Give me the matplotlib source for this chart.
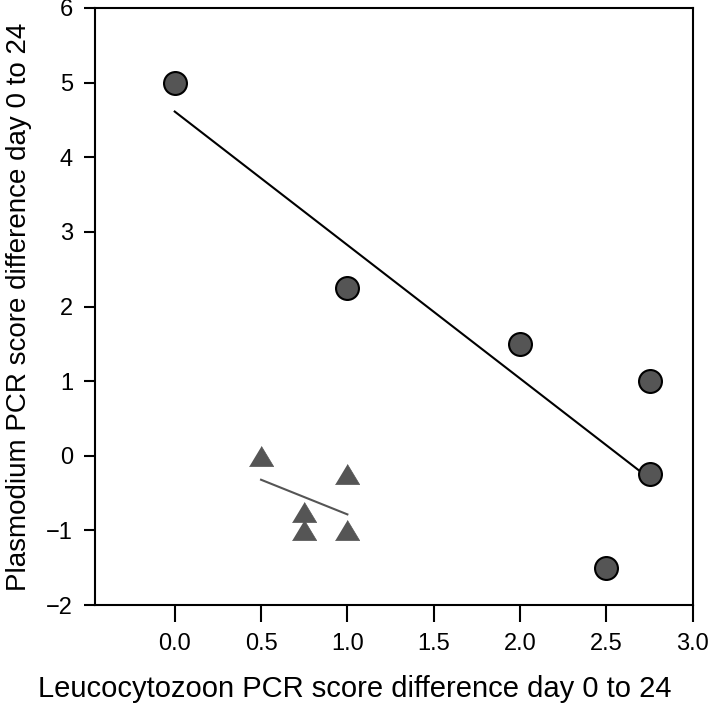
import numpy as np
import matplotlib
matplotlib.use("Agg")
import matplotlib.pyplot as plt

plt.rcParams['font.family'] = ['Liberation Sans', 'DejaVu Sans']

# Plasmodium-dominant group (circles)
circ_x = [0.0, 1.0, 2.0, 2.75, 2.75, 2.5]
circ_y = [5.0, 2.25, 1.5, 1.0, -0.25, -1.5]
# Second group (triangles)
tri_x = [0.5, 0.75, 0.75, 1.0, 1.0]
tri_y = [0.0, -0.75, -1.0, -0.25, -1.0]

xticks = [0.0, 0.5, 1.0, 1.5, 2.0, 2.5, 3.0]
yticks = [-2, -1, 0, 1, 2, 3, 4, 5, 6]

W, H = 709, 703
fig = plt.figure(figsize=(W / 100, H / 100), dpi=100)
ax = fig.add_axes([95.3 / W, 1 - 605 / H, (692.7 - 95.3) / W, (605 - 8) / H])

# regression lines
cx = np.array(circ_x); cy = np.array(circ_y)
m1, b1 = np.polyfit(cx, cy, 1)
xs1 = np.array([cx.min(), cx.max()])
ax.plot(xs1, m1 * xs1 + b1, color='black', lw=1.5, zorder=2)

tx = np.array(tri_x); ty = np.array(tri_y)
m2, b2 = np.polyfit(tx, ty, 1)
xs2 = np.array([tx.min(), tx.max()])
ax.plot(xs2, m2 * xs2 + b2, color='#555555', lw=1.5, zorder=2)

ax.plot(circ_x, circ_y, 'o', ms=16.5, mfc='#555555', mec='black', mew=1.5,
        ls='none', zorder=3)
tri_marker = [(-1, -0.83), (1, -0.83), (0, 0.83)]
ax.plot(tri_x, tri_y, marker=tri_marker, ms=17.5, mfc='#555555', mec='#555555',
        mew=0.5, ls='none', zorder=3)

ax.set_xlim(-0.46, 3.0)
ax.set_ylim(-2, 6)
ax.set_xticks(xticks)
ax.set_xticklabels([f"{v:.1f}" for v in xticks])
ax.set_yticks(yticks)
ax.set_yticklabels([str(v) if v >= 0 else "\u2212" + str(-v) for v in yticks])

for s in ax.spines.values():
    s.set_linewidth(1.5)
ax.tick_params(axis='x', direction='out', length=12, width=1.5, labelsize=17, pad=8)
ax.tick_params(axis='y', direction='out', length=8, width=1.5, labelsize=17, pad=8)

fig.text(0.5, 6 / H, "Leucocytozoon PCR score difference day 0 to 24",
         fontsize=21, ha='center', va='baseline')
ax.set_ylabel("Plasmodium PCR score difference day 0 to 24", fontsize=20, labelpad=10)

fig.savefig("out.png", dpi=100)
